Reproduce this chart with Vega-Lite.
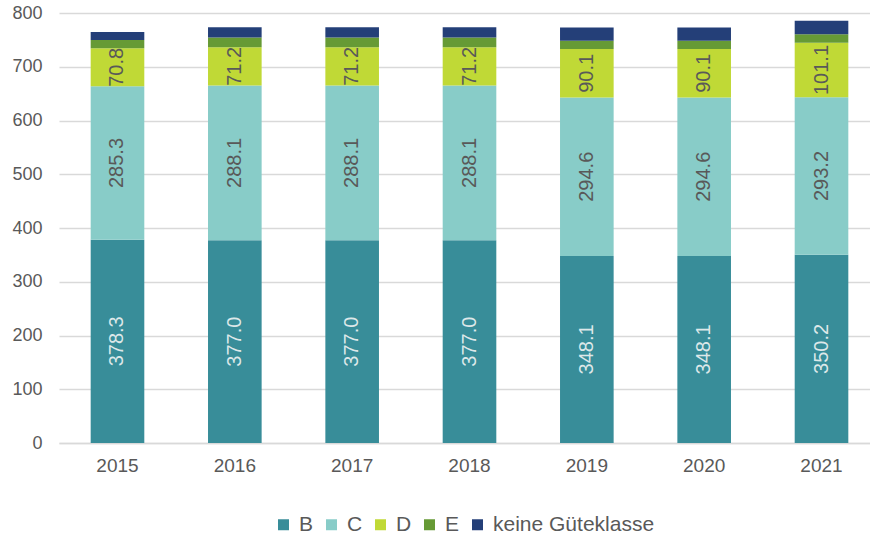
{
  "$schema": "https://vega.github.io/schema/vega-lite/v6.json",
  "autosize": {"type": "none"},
  "width": 811,
  "height": 430,
  "padding": {"left": 59, "top": 13, "right": 0, "bottom": 94},
  "background": "white",
  "config": {"font": "Liberation Sans", "view": {"stroke": null}},
  "data": {"values": [
    {"year": "2015", "series": "B", "value": 378.3},
    {"year": "2015", "series": "C", "value": 285.3},
    {"year": "2015", "series": "D", "value": 70.8},
    {"year": "2015", "series": "E", "value": 15.4},
    {"year": "2015", "series": "keine Güteklasse", "value": 14.9},
    {"year": "2016", "series": "B", "value": 377.0},
    {"year": "2016", "series": "C", "value": 288.1},
    {"year": "2016", "series": "D", "value": 71.2},
    {"year": "2016", "series": "E", "value": 17.9},
    {"year": "2016", "series": "keine Güteklasse", "value": 19.3},
    {"year": "2017", "series": "B", "value": 377.0},
    {"year": "2017", "series": "C", "value": 288.1},
    {"year": "2017", "series": "D", "value": 71.2},
    {"year": "2017", "series": "E", "value": 17.9},
    {"year": "2017", "series": "keine Güteklasse", "value": 19.3},
    {"year": "2018", "series": "B", "value": 377.0},
    {"year": "2018", "series": "C", "value": 288.1},
    {"year": "2018", "series": "D", "value": 71.2},
    {"year": "2018", "series": "E", "value": 17.9},
    {"year": "2018", "series": "keine Güteklasse", "value": 19.3},
    {"year": "2019", "series": "B", "value": 348.1},
    {"year": "2019", "series": "C", "value": 294.6},
    {"year": "2019", "series": "D", "value": 90.1},
    {"year": "2019", "series": "E", "value": 15.5},
    {"year": "2019", "series": "keine Güteklasse", "value": 24.9},
    {"year": "2020", "series": "B", "value": 348.1},
    {"year": "2020", "series": "C", "value": 294.6},
    {"year": "2020", "series": "D", "value": 90.1},
    {"year": "2020", "series": "E", "value": 15.5},
    {"year": "2020", "series": "keine Güteklasse", "value": 24.9},
    {"year": "2021", "series": "B", "value": 350.2},
    {"year": "2021", "series": "C", "value": 293.2},
    {"year": "2021", "series": "D", "value": 101.1},
    {"year": "2021", "series": "E", "value": 16.1},
    {"year": "2021", "series": "keine Güteklasse", "value": 24.8}
  ]},
  "encoding": {
    "x": {
      "field": "year", "type": "nominal",
      "scale": {"paddingInner": 0.543, "paddingOuter": 0.27, "range": [0, 821]},
      "axis": {
        "title": null, "labelAngle": 0, "ticks": false, "domain": true,
        "domainColor": "#d9d9d9", "domainWidth": 1.5, "labelFontSize": 19,
        "labelColor": "#595959", "labelPadding": 13, "grid": false
      }
    }
  },
  "layer": [
    {
      "mark": {"type": "bar"},
      "encoding": {
        "y": {
          "field": "value", "type": "quantitative", "stack": "zero",
          "scale": {"domain": [0, 800]},
          "axis": {
            "title": null, "values": [0, 100, 200, 300, 400, 500, 600, 700, 800],
            "ticks": false, "domain": false, "grid": true, "gridColor": "#d9d9d9",
            "gridWidth": 1.5, "labelFontSize": 18, "labelColor": "#595959",
            "labelPadding": 17
          }
        },
        "color": {
          "field": "series", "type": "nominal",
          "scale": {
            "domain": ["B", "C", "D", "E", "keine Güteklasse"],
            "range": ["#388d99", "#88ccc8", "#c0d936", "#669a35", "#243f78"]
          },
          "legend": {
            "title": null, "orient": "none", "direction": "horizontal",
            "legendX": 214, "legendY": 501, "symbolType": "square", "symbolSize": 121,
            "symbolStrokeWidth": 0, "labelFontSize": 21, "labelColor": "#595959",
            "columnPadding": 7, "labelOffset": 5, "labelLimit": 400
          }
        },
        "order": {"field": "series", "sort": "ascending"}
      }
    },
    {
      "transform": [{"filter": "datum.series === 'B' || datum.series === 'C' || datum.series === 'D'"}],
      "mark": {"type": "text", "angle": 270, "fontSize": 20, "baseline": "middle", "align": "center"},
      "encoding": {
        "y": {"field": "value", "type": "quantitative", "stack": "zero", "bandPosition": 0.5},
        "detail": {"field": "series"},
        "order": {"field": "series", "sort": "ascending"},
        "text": {"field": "value", "type": "quantitative", "format": ".1f"},
        "color": {
          "condition": {"test": "datum.series === 'B'", "value": "#dde8e9"},
          "value": "#595959"
        }
      }
    }
  ]
}
